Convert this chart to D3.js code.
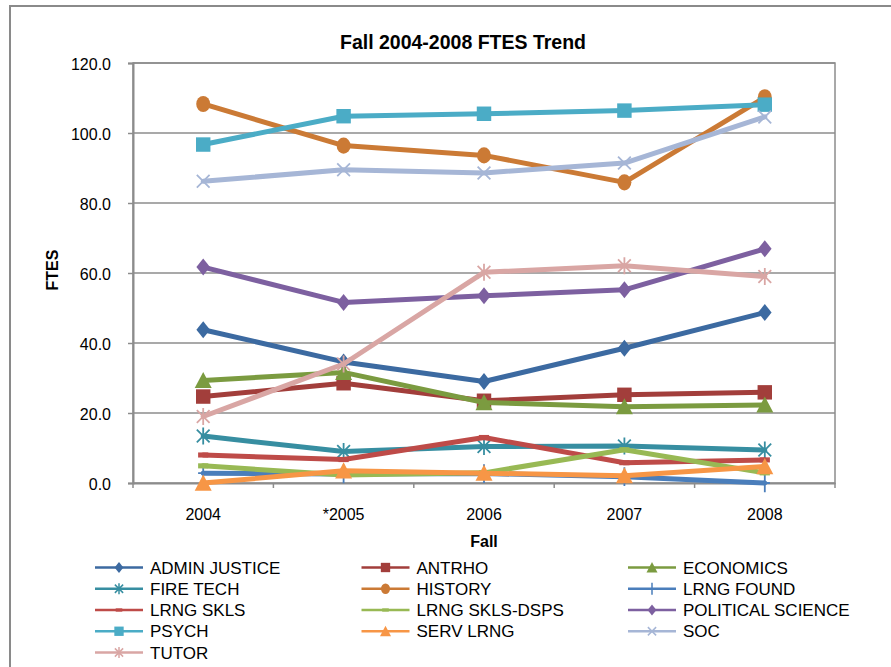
<!DOCTYPE html>
<html>
<head>
<meta charset="utf-8">
<script src="https://cdn.jsdelivr.net/npm/d3@7"></script>
<style>
  body { margin: 0; background: #fff; }
  text { font-family: "Liberation Sans", Arial, sans-serif; fill: #000; }
</style>
</head>
<body>
<script>
// chart values
var years = ["2004", "*2005", "2006", "2007", "2008"];
var yTicks = [0, 20, 40, 60, 80, 100, 120];

var adminJustice     = [43.8, 34.6, 29.0, 38.5, 48.7];
var antrho           = [24.7, 28.5, 23.5, 25.2, 25.9];
var economics        = [29.3, 31.6, 23.0, 21.8, 22.3];
var fireTech         = [13.4, 9.0, 10.4, 10.6, 9.4];
var historyVals      = [108.3, 96.4, 93.6, 85.9, 110.2];
var lrngFound        = [2.8, 2.6, 2.7, 1.8, 0.0];
var lrngSkls         = [8.0, 6.7, 13.0, 5.8, 6.6];
var lrngSklsDsps     = [4.9, 2.3, 2.9, 9.5, 2.9];
var politicalScience = [61.7, 51.6, 53.5, 55.2, 66.9];
var psych            = [96.7, 104.8, 105.5, 106.4, 108.1];
var servLrng         = [0.0, 3.5, 2.8, 2.1, 4.7];
var soc              = [86.2, 89.5, 88.6, 91.4, 104.6];
var tutor            = [19.0, 34.0, 60.2, 62.1, 59.0];

var seriesNames = ["ADMIN JUSTICE", "ANTRHO", "ECONOMICS", "FIRE TECH", "HISTORY", "LRNG FOUND",
  "LRNG SKLS", "LRNG SKLS-DSPS", "POLITICAL SCIENCE", "PSYCH", "SERV LRNG", "SOC", "TUTOR"];
var seriesValues = [adminJustice, antrho, economics, fireTech, historyVals, lrngFound,
  lrngSkls, lrngSklsDsps, politicalScience, psych, servLrng, soc, tutor];

// looks
var colors = ["#3c6aa1", "#a23e3b", "#7b9b40", "#378ea1", "#cb7a35", "#4a7ebb",
  "#be4b48", "#98b954", "#7d60a0", "#4bacc6", "#f79646", "#a6b6d6", "#d9a6a4"];
var markers = ["diamond", "square", "triangle", "star", "circle", "plus",
  "dash", "dash", "diamond", "square", "triangle", "cross", "star"];

var margin = {top: 63, right: 56, bottom: 184, left: 133},
    width = 891 - margin.left - margin.right,
    height = 667 - margin.top - margin.bottom;

var svg = d3.select("body")
  .append("svg")
  .attr("width", 891)
  .attr("height", 667);

// outer chart frame (runs off the right and bottom edge)
svg.append("rect")
  .attr("x", 10).attr("y", 6)
  .attr("width", 940).attr("height", 720)
  .attr("fill", "#fff")
  .attr("stroke", "#8a8a8a")
  .attr("stroke-width", 2);

var g = svg.append("g")
  .attr("transform", "translate(" + margin.left + "," + margin.top + ")");

var x = d3.scaleBand()
  .domain(years)
  .range([0, width]);

var y = d3.scaleLinear()
  .domain([0, 120])
  .range([height, 0]);

// gridlines
g.append("g")
  .selectAll("line")
  .data(yTicks.filter(d => d > 0))
  .enter()
  .append("line")
    .attr("x1", 0).attr("x2", width)
    .attr("y1", d => y(d)).attr("y2", d => y(d))
    .attr("stroke", "#8c8c8c")
    .attr("stroke-width", 1.5);

// plot frame
g.append("rect")
  .attr("width", width).attr("height", height)
  .attr("fill", "none")
  .attr("stroke", "#8c8c8c")
  .attr("stroke-width", 1.5);

// y axis
var yAxis = g.append("g")
  .call(d3.axisLeft(y).tickValues(yTicks).tickFormat(d3.format(".1f")).tickSize(5).tickPadding(17));
yAxis.select(".domain").attr("stroke", "#8c8c8c").attr("stroke-width", 2);
yAxis.selectAll(".tick line").attr("stroke", "#8c8c8c").attr("stroke-width", 1.5);
yAxis.selectAll("text").attr("font-size", 16).attr("font-family", "Liberation Sans, Arial, sans-serif").attr("dy", "0.4em");

// x axis, ticks sit between categories
var xAxis = g.append("g")
  .attr("transform", "translate(0," + height + ")")
  .call(d3.axisBottom(x).tickSize(0).tickPadding(26));
xAxis.select(".domain").attr("stroke", "#8c8c8c").attr("stroke-width", 2);
xAxis.selectAll("text").attr("font-size", 16).attr("font-family", "Liberation Sans, Arial, sans-serif");
xAxis.selectAll(".sep")
  .data(d3.range(years.length + 1))
  .enter()
  .append("line")
    .attr("x1", i => i * x.step()).attr("x2", i => i * x.step())
    .attr("y1", 0).attr("y2", 5)
    .attr("stroke", "#8c8c8c")
    .attr("stroke-width", 1.5);

// titles
svg.append("text")
  .attr("x", 463).attr("y", 49)
  .attr("text-anchor", "middle")
  .attr("font-size", 19.5)
  .attr("font-weight", "bold")
  .text("Fall 2004-2008 FTES Trend");

svg.append("text")
  .attr("x", 484).attr("y", 547)
  .attr("text-anchor", "middle")
  .attr("font-size", 16)
  .attr("font-weight", "bold")
  .text("Fall");

svg.append("text")
  .attr("transform", "translate(58,270) rotate(-90)")
  .attr("text-anchor", "middle")
  .attr("font-size", 16)
  .attr("font-weight", "bold")
  .text("FTES");

// marker shapes, s = size in px
var markerPath = function(type, s) {
  var h = s / 2;
  if (type === "diamond") return "M0," + (-h) + "L" + h * 0.8 + ",0L0," + h + "L" + (-h * 0.8) + ",0Z";
  if (type === "square") return "M" + (-h * 0.85) + "," + (-h * 0.85) + "h" + (s * 0.85) + "v" + (s * 0.85) + "h" + (-s * 0.85) + "Z";
  if (type === "triangle") return "M0," + (-h) + "L" + h + "," + h * 0.9 + "L" + (-h) + "," + h * 0.9 + "Z";
  if (type === "circle") return "M0," + (-h * 0.95) + "A" + h * 0.82 + "," + h * 0.95 + " 0 1,1 0," + h * 0.95 + "A" + h * 0.82 + "," + h * 0.95 + " 0 1,1 0," + (-h * 0.95) + "Z";
  if (type === "dash") return "M" + (-h * 0.6) + "," + (-h * 0.3) + "h" + (s * 0.6) + "v" + (s * 0.3) + "h" + (-s * 0.6) + "Z";
  var k = h * 0.75;
  if (type === "cross") return "M" + (-k) + "," + (-k) + "L" + k + "," + k + "M" + (-k) + "," + k + "L" + k + "," + (-k);
  if (type === "plus") return "M0," + (-h * 1.1) + "V" + h * 1.1 + "M" + (-h * 0.6) + ",0H" + h * 0.6;
  // star: x plus vertical bar
  return "M" + (-k) + "," + (-k) + "L" + k + "," + k + "M" + (-k) + "," + k + "L" + k + "," + (-k) + "M0," + (-h) + "V" + h;
};
var filled = t => ["diamond", "square", "triangle", "circle", "dash"].indexOf(t) >= 0;

var line = d3.line()
  .x((d, i) => x(years[i]) + x.bandwidth() / 2)
  .y(d => y(d));

// series, later ones drawn on top
seriesValues.forEach(function(vals, k) {
  var sg = g.append("g");
  sg.append("path")
    .datum(vals)
    .attr("d", line)
    .attr("fill", "none")
    .attr("stroke", colors[k])
    .attr("stroke-width", 5)
    .attr("stroke-linejoin", "round")
    .attr("stroke-linecap", "round");
  sg.selectAll(".pt")
    .data(vals)
    .enter()
    .append("path")
      .attr("transform", (d, i) => "translate(" + (x(years[i]) + x.bandwidth() / 2) + "," + y(d) + ")")
      .attr("d", markerPath(markers[k], 17))
      .attr("fill", filled(markers[k]) ? colors[k] : "none")
      .attr("stroke", colors[k])
      .attr("stroke-width", filled(markers[k]) ? 0 : 1.8);
});

// legend, three columns
var legendX = [95, 361.5, 628], legendY = 567.5, rowH = 21.25;
var legend = svg.append("g");
seriesNames.forEach(function(name, k) {
  var lx = legendX[k % 3], ly = legendY + Math.floor(k / 3) * rowH;
  var item = legend.append("g").attr("transform", "translate(" + lx + "," + ly + ")");
  item.append("line")
    .attr("x1", 0).attr("x2", 48)
    .attr("stroke", colors[k])
    .attr("stroke-width", 2.5);
  item.append("path")
    .attr("transform", "translate(24,0)")
    .attr("d", markerPath(markers[k], 11))
    .attr("fill", filled(markers[k]) ? colors[k] : "none")
    .attr("stroke", colors[k])
    .attr("stroke-width", filled(markers[k]) ? 0 : 1.5);
  item.append("text")
    .attr("x", 55).attr("y", 0)
    .attr("dy", "0.36em")
    .attr("font-size", 17)
    .text(name);
});
</script>
</body>
</html>
